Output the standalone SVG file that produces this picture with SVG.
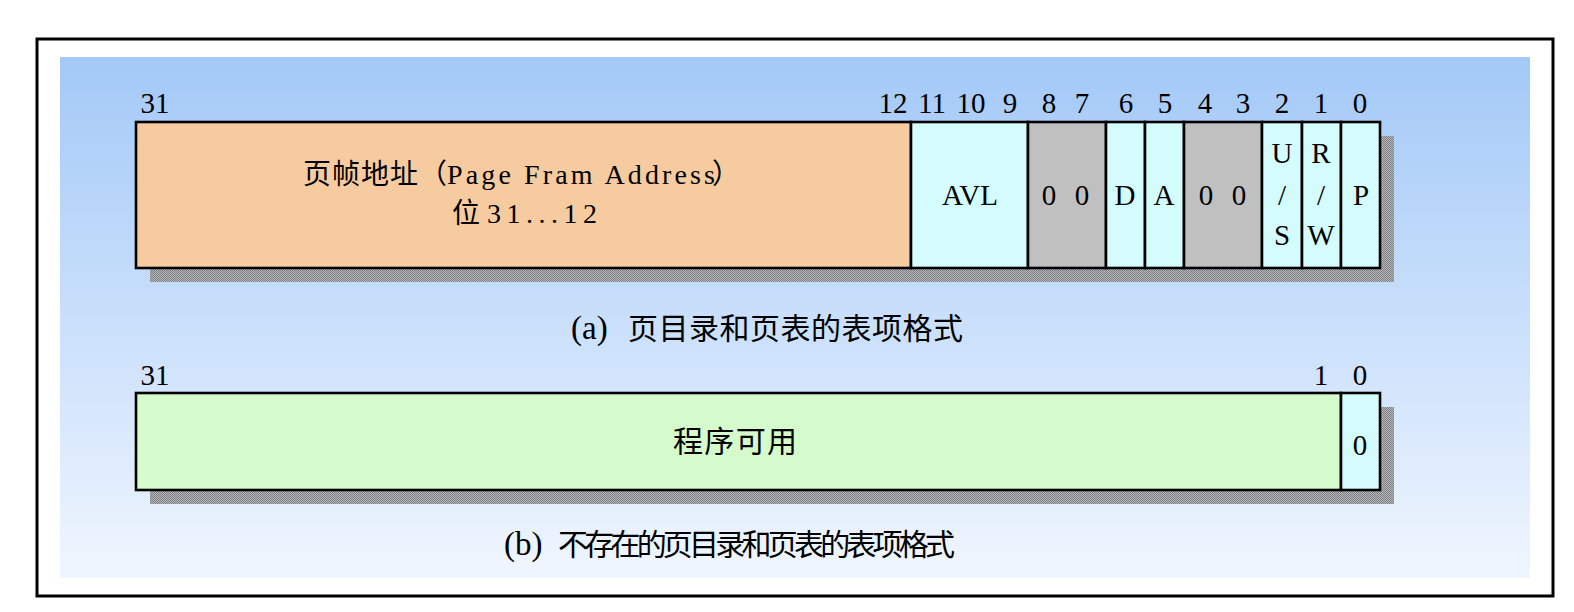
<svg xmlns="http://www.w3.org/2000/svg" width="1574" height="612" viewBox="0 0 1574 612">
<defs>
<linearGradient id="bg" x1="0" y1="0" x2="0" y2="1">
<stop offset="0" stop-color="#a3c9f7"/>
<stop offset="0.5" stop-color="#c9dffb"/>
<stop offset="1" stop-color="#f0f6fe"/>
</linearGradient>
<pattern id="dots" width="2" height="2" patternUnits="userSpaceOnUse">
<rect x="0" y="0" width="1" height="1" fill="#7f7f7f"/>
<rect x="1" y="1" width="1" height="1" fill="#7f7f7f"/>
<rect x="1" y="0" width="1" height="1" fill="#b4b8be"/>
<rect x="0" y="1" width="1" height="1" fill="#b4b8be"/>
</pattern>
<style>
.box{stroke:#000;stroke-width:2.6}
.or{fill:#f6cba0}
.cy{fill:#d5fcfc}
.gr{fill:#c0c0c0}
.gn{fill:#d5fbcc}
.sh{fill:url(#dots)}
text{font-family:"Liberation Serif","Noto Sans CJK SC",serif;fill:#000}
.lb{font-size:29px;text-anchor:middle}
.t{font-size:28px}
.cap{font-size:30px}
.par{font-size:33px}
</style>
</defs>
<rect x="37" y="39" width="1516" height="557" fill="#fff" stroke="#000" stroke-width="3"/>
<rect x="60" y="57" width="1470" height="521" fill="url(#bg)"/>

<g id="shadows">
<rect class="sh" x="150" y="136" width="1244" height="146"/>
<rect class="sh" x="150" y="407" width="1244" height="97"/>
</g>

<g id="entry-a">
<g id="frame-address">
<rect class="box or" x="136" y="122" width="775" height="146"/>
<text class="t" y="184"><tspan x="303" textLength="144" lengthAdjust="spacing">页帧地址（</tspan><tspan x="447" textLength="268" lengthAdjust="spacing">Page Fram Address</tspan><tspan x="712">）</tspan></text>
<text class="t" y="223"><tspan x="452">位</tspan><tspan x="487" textLength="110" lengthAdjust="spacing">31...12</tspan></text>
</g>
<g id="avl">
<rect class="box cy" x="911" y="122" width="117" height="146"/>
<text class="lb" x="970" y="205">AVL</text>
</g>
<g id="bits87">
<rect class="box gr" x="1028" y="122" width="78" height="146"/>
<text class="lb" x="1049" y="205">0</text>
<text class="lb" x="1082" y="205">0</text>
</g>
<g id="dirty">
<rect class="box cy" x="1106" y="122" width="39" height="146"/>
<text class="lb" x="1125" y="205">D</text>
</g>
<g id="accessed">
<rect class="box cy" x="1145" y="122" width="39" height="146"/>
<text class="lb" x="1164" y="205">A</text>
</g>
<g id="bits43">
<rect class="box gr" x="1184" y="122" width="78" height="146"/>
<text class="lb" x="1206" y="205">0</text>
<text class="lb" x="1239" y="205">0</text>
</g>
<g id="us">
<rect class="box cy" x="1262" y="122" width="40" height="146"/>
<text class="lb" x="1282" y="163">U</text>
<text class="lb" x="1282" y="205">/</text>
<text class="lb" x="1282" y="245">S</text>
</g>
<g id="rw">
<rect class="box cy" x="1302" y="122" width="39" height="146"/>
<text class="lb" x="1321" y="163">R</text>
<text class="lb" x="1321" y="205">/</text>
<text class="lb" x="1321" y="245">W</text>
</g>
<g id="present">
<rect class="box cy" x="1341" y="122" width="39" height="146"/>
<text class="lb" x="1361" y="205">P</text>
</g>
<g id="bit-numbers-a">
<text class="lb" x="155" y="113">31</text>
<text class="lb" x="893" y="113">12</text>
<text class="lb" x="932" y="113">11</text>
<text class="lb" x="971" y="113">10</text>
<text class="lb" x="1010" y="113">9</text>
<text class="lb" x="1049" y="113">8</text>
<text class="lb" x="1082" y="113">7</text>
<text class="lb" x="1126" y="113">6</text>
<text class="lb" x="1165" y="113">5</text>
<text class="lb" x="1205" y="113">4</text>
<text class="lb" x="1243" y="113">3</text>
<text class="lb" x="1282" y="113">2</text>
<text class="lb" x="1321" y="113">1</text>
<text class="lb" x="1360" y="113">0</text>
</g>
<text id="caption-a" class="cap" y="339"><tspan class="par" x="571">(a)</tspan><tspan x="628" textLength="335" lengthAdjust="spacing">页目录和页表的表项格式</tspan></text>
</g>

<g id="entry-b">
<g id="available">
<rect class="box gn" x="136" y="393" width="1205" height="97"/>
<text class="cap" x="673" y="452" textLength="124" lengthAdjust="spacing">程序可用</text>
</g>
<g id="present-b">
<rect class="box cy" x="1341" y="393" width="39" height="97"/>
<text class="lb" x="1360" y="455">0</text>
</g>
<g id="bit-numbers-b">
<text class="lb" x="155" y="385">31</text>
<text class="lb" x="1321" y="385">1</text>
<text class="lb" x="1360" y="385">0</text>
</g>
<text id="caption-b" class="cap" y="555"><tspan class="par" x="504">(b)</tspan><tspan x="558" textLength="397" lengthAdjust="spacing">不存在的页目录和页表的表项格式</tspan></text>
</g>
</svg>
